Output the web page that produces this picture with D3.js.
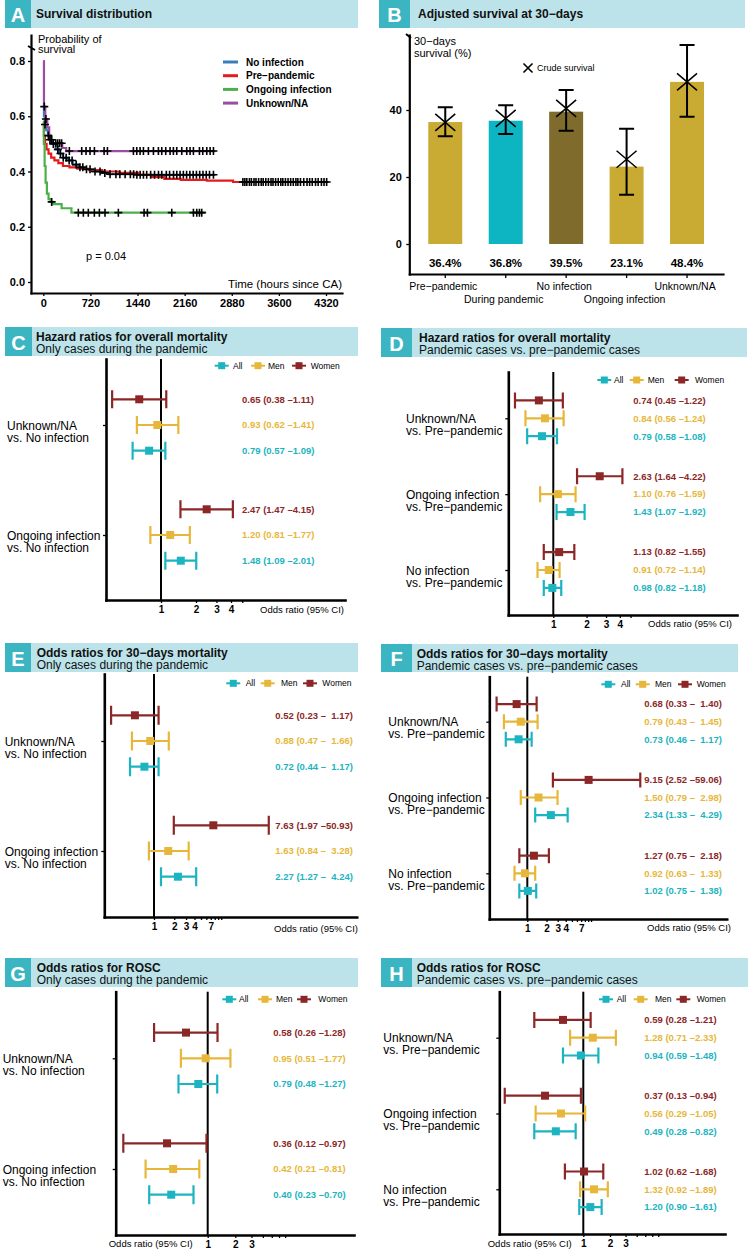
<!DOCTYPE html>
<html><head><meta charset="utf-8">
<script src="https://cdn.jsdelivr.net/npm/d3@7/dist/d3.min.js"></script>
<style>html,body{margin:0;padding:0;background:#fff}svg{display:block}</style>
</head><body>
<svg id="chart" width="749" height="1249" xmlns="http://www.w3.org/2000/svg"></svg>
<script>
// ===================== DATA =====================
// Panel A – Kaplan–Meier survival (step points)
const kmNames  = ["No infection", "Pre\u2212pandemic", "Ongoing infection", "Unknown/NA"];
const kmColors = ["#377EB8", "#E41A1C", "#4DAF4A", "#984EA3"];
const noInfTime = [0, 10, 25, 45, 70, 100, 140, 190, 240, 300, 370, 450, 540, 640, 760, 880, 1000, 1400];
const noInfSurv = [0.63, 0.60, 0.57, 0.55, 0.53, 0.515, 0.50, 0.48, 0.465, 0.45, 0.44, 0.425, 0.415, 0.408, 0.40, 0.395, 0.39, 0.388];
const noInfEnd  = 2630;
const noInfCens = [26, 77, 102, 128, 153, 222, 262, 305, 349, 395, 440, 502, 560, 604, 660, 714, 790, 867, 940, 1020, 1110, 1170, 1250, 1330, 1380, 1430, 1480, 1530, 1580, 1640, 1700, 1760, 1810, 1880, 1930, 1990, 2040, 2090, 2140, 2190, 2240, 2290, 2340, 2390, 2440, 2490, 2540, 2600];
const preTime = [0, 10, 25, 50, 80, 120, 170, 230, 300, 400, 520, 700, 900, 1150, 1450, 1650, 1850, 2100, 2500, 2900];
const preSurv = [0.58, 0.53, 0.50, 0.48, 0.465, 0.45, 0.44, 0.43, 0.42, 0.415, 0.41, 0.405, 0.40, 0.395, 0.388, 0.38, 0.373, 0.37, 0.367, 0.362];
const preEnd  = 4360;
const preCens = [3050, 3080, 3110, 3150, 3180, 3220, 3250, 3290, 3330, 3360, 3400, 3440, 3480, 3510, 3550, 3590, 3630, 3660, 3700, 3740, 3780, 3820, 3860, 3890, 3930, 3980, 4030, 4070, 4110, 4160, 4200, 4250, 4290, 4330];
const ongTime = [0, 8, 20, 35, 55, 80, 110, 150, 280, 430];
const ongSurv = [0.58, 0.50, 0.42, 0.36, 0.32, 0.30, 0.29, 0.282, 0.267, 0.251];
const ongEnd  = 2490;
const ongCens = [128, 535, 612, 688, 780, 857, 943, 1147, 1540, 1591, 1963, 2294, 2345, 2386, 2421];
const unkTime = [0, 10, 30, 60, 90, 110, 290, 350];
const unkSurv = [0.80, 0.635, 0.59, 0.56, 0.53, 0.502, 0.485, 0.474];
const unkEnd  = 2630;
const unkCens = [15, 40, 190, 220, 250, 280, 398, 587, 653, 714, 781, 929, 980, 1377, 1428, 1479, 1530, 1606, 1683, 1759, 1810, 1871, 1937, 1988, 2039, 2116, 2192, 2243, 2294, 2386, 2437, 2498, 2549, 2600];
const kmXTicks = [0, 720, 1440, 2160, 2880, 3600, 4320];
const kmYTicks = [0, 0.2, 0.4, 0.6, 0.8];

// Panel B – adjusted 30-day survival
const bCats   = ["Pre\u2212pandemic", "During pandemic", "No infection", "Ongoing infection", "Unknown/NA"];
const bAdj    = [36.4, 36.8, 39.5, 23.1, 48.4];
const bLo     = [32.2, 32.8, 33.8, 14.7, 38.0];
const bHi     = [40.8, 41.4, 46.0, 34.4, 59.4];
const bCrude  = [36.3, 37.5, 40.5, 25.3, 48.4];
const bColors = ["#C9AA33", "#0DB5C3", "#7F6C2C", "#C9AA33", "#C9AA33"];
const bYTicks = [0, 20, 40];

// Forest plots: rows per group = Women, Men, All
const sexNames  = ["Women", "Men", "All"];
const sexColors = ["#8C2727", "#E6B73A", "#1CB4C1"];

const cGroups = [["Unknown/NA", "vs. No infection"], ["Ongoing infection", "vs. No infection"]];
const cEst = [[0.65, 0.93, 0.79], [2.47, 1.20, 1.48]];
const cLo  = [[0.38, 0.62, 0.57], [1.47, 0.81, 1.09]];
const cHi  = [[1.11, 1.41, 1.09], [4.15, 1.77, 2.01]];

const dGroups = [["Unknown/NA", "vs. Pre\u2212pandemic"], ["Ongoing infection", "vs. Pre\u2212pandemic"], ["No infection", "vs. Pre\u2212pandemic"]];
const dEst = [[0.74, 0.84, 0.79], [2.63, 1.10, 1.43], [1.13, 0.91, 0.98]];
const dLo  = [[0.45, 0.56, 0.58], [1.64, 0.76, 1.07], [0.82, 0.72, 0.82]];
const dHi  = [[1.22, 1.24, 1.08], [4.22, 1.59, 1.92], [1.55, 1.14, 1.18]];

const eGroups = cGroups;
const eEst = [[0.52, 0.88, 0.72], [7.63, 1.63, 2.27]];
const eLo  = [[0.23, 0.47, 0.44], [1.97, 0.84, 1.27]];
const eHi  = [[1.17, 1.66, 1.17], [50.93, 3.28, 4.24]];

const fGroups = dGroups;
const fEst = [[0.68, 0.79, 0.73], [9.15, 1.50, 2.34], [1.27, 0.92, 1.02]];
const fLo  = [[0.33, 0.43, 0.46], [2.52, 0.79, 1.33], [0.75, 0.63, 0.75]];
const fHi  = [[1.40, 1.45, 1.17], [59.06, 2.98, 4.29], [2.18, 1.33, 1.38]];

const gGroups = cGroups;
const gEst = [[0.58, 0.95, 0.79], [0.36, 0.42, 0.40]];
const gLo  = [[0.26, 0.51, 0.48], [0.12, 0.21, 0.23]];
const gHi  = [[1.28, 1.77, 1.27], [0.97, 0.81, 0.70]];

const hGroups = dGroups;
const hEst = [[0.59, 1.28, 0.94], [0.37, 0.56, 0.49], [1.02, 1.32, 1.20]];
const hLo  = [[0.28, 0.71, 0.59], [0.13, 0.29, 0.28], [0.62, 0.92, 0.90]];
const hHi  = [[1.21, 2.33, 1.48], [0.94, 1.05, 0.82], [1.68, 1.89, 1.61]];

const ticksHR = [1, 2, 3, 4, 5], labelsHR = [1, 2, 3, 4];
const ticksOR = [1, 2, 3, 4, 5, 6, 7, 8, 9, 10], labelsOR = [1, 2, 3, 4, 7];
const ticksRO = [1, 2, 3, 4, 5, 6, 7], labelsRO = [1, 2, 3];

// ===================== DRAWING =====================
const FONT = "'Liberation Sans', Arial, Helvetica, sans-serif";
const BAND = "#BCE3EA", BOX = "#3CB5C3";
const svg = d3.select("#chart").attr("font-family", FONT);

function extend(scale, r0, r1) {
  return scale.copy().domain([scale.invert(r0), scale.invert(r1)]).range([r0, r1]);
}
function styleAxis(sel, lw, fs, bold) {
  sel.attr("font-family", FONT);
  sel.select(".domain").attr("stroke", "#000").attr("stroke-width", lw).attr("stroke-linecap", "square");
  sel.selectAll(".tick line").attr("stroke", "#000").attr("stroke-width", 1.3);
  sel.selectAll(".tick text").attr("fill", "#000").attr("font-size", fs).attr("font-weight", bold ? "bold" : "normal");
}
function txt(g, x, y, s, o = {}) {
  return g.append("text").attr("x", x).attr("y", y).attr("dy", "0.35em")
    .attr("text-anchor", o.anchor || "start").attr("font-size", o.size || 12)
    .attr("font-weight", o.bold ? "bold" : "normal").attr("fill", o.fill || "#000")
    .style("white-space", "pre").text(s);
}
// multi-line text as a single text element
function txt2(g, x, y, lines, gap, o = {}) {
  const t = g.append("text").attr("x", x).attr("y", y)
    .attr("text-anchor", o.anchor || "start").attr("font-size", o.size || 12)
    .attr("font-weight", o.bold ? "bold" : "normal").attr("fill", o.fill || "#000");
  lines.forEach((l, i) => {
    t.append("tspan").attr("x", x).attr("dy", i === 0 ? "0.35em" : gap).text(l);
  });
  return t;
}
function header(g, h) {
  g.append("rect").attr("x", h.x0).attr("y", h.y0).attr("width", h.x1 - h.x0).attr("height", h.y1 - h.y0).attr("fill", BAND);
  g.append("rect").attr("x", h.x0).attr("y", h.y0).attr("width", h.boxW).attr("height", h.y1 - h.y0).attr("fill", BOX);
  txt(g, h.x0 + h.boxW / 2, (h.y0 + h.y1) / 2 + 1, h.letter, {anchor: "middle", size: 20, bold: true, fill: "#fff"});
  if (h.sub) {
    txt(g, h.titleX, h.y0 + 10, h.title, {size: 12, bold: true, fill: "#111"});
    txt(g, h.titleX, h.y0 + 22, h.sub, {size: 12, fill: "#111"});
  } else {
    txt(g, h.titleX, (h.y0 + h.y1) / 2, h.title, {size: 12, bold: true, fill: "#111"});
  }
}

// ---------- Panel A ----------
(function () {
  const g = svg.append("g");
  header(g, {x0: 5, x1: 358, y0: 0, y1: 28, boxW: 26, letter: "A", titleX: 36, title: "Survival distribution"});
  const x = extend(d3.scaleLinear().domain([0, 4320]).range([43.3, 326]), 31, 342);
  const y = extend(d3.scaleLinear().domain([0, 0.8]).range([282, 61]), 293, 35);
  const ax = g.append("g").attr("transform", "translate(0,293)")
    .call(d3.axisBottom(x).tickValues(kmXTicks).tickFormat(d3.format("d")).tickSize(3).tickSizeOuter(0).tickPadding(3));
  styleAxis(ax, 2.2, 11, true);
  const ay = g.append("g").attr("transform", "translate(31,0)")
    .call(d3.axisLeft(y).tickValues(kmYTicks).tickFormat(d3.format(".1f")).tickSize(3).tickSizeOuter(0).tickPadding(3));
  styleAxis(ay, 2.2, 11, true);
  g.append("line").attr("x1", 28).attr("y1", 46).attr("x2", 35).attr("y2", 50).attr("stroke", "#000").attr("stroke-width", 2);

  const series = [
    [noInfTime, noInfSurv, noInfEnd, noInfCens],
    [preTime, preSurv, preEnd, preCens],
    [ongTime, ongSurv, ongEnd, ongCens],
    [unkTime, unkSurv, unkEnd, unkCens]
  ];
  const line = d3.line().x(d => x(d[0])).y(d => y(d[1])).curve(d3.curveStepAfter);
  series.forEach((s, i) => {
    const pts = s[0].map((t, j) => [t, s[1][j]]);
    pts.push([s[2], s[1][s[1].length - 1]]);
    g.append("path").attr("d", line(pts)).attr("fill", "none").attr("stroke", kmColors[i]).attr("stroke-width", 2.2);
  });
  series.forEach(s => {
    s[3].forEach(t => {
      const v = s[1][Math.max(0, d3.bisectRight(s[0], t) - 1)];
      const cx = x(t), cy = y(v);
      g.append("path").attr("d", `M${cx - 4},${cy}H${cx + 4}M${cx},${cy - 4}V${cy + 4}`)
        .attr("stroke", "#000").attr("stroke-width", 1.6);
    });
  });
  // legend
  kmNames.forEach((n, i) => {
    const ly = 62 + i * 13.7;
    g.append("line").attr("x1", 223).attr("x2", 238).attr("y1", ly).attr("y2", ly).attr("stroke", kmColors[i]).attr("stroke-width", 3);
    txt(g, 246, ly, n, {size: 10, bold: true});
  });
  txt2(g, 38, 39, ["Probability of", "survival"], 10.5, {size: 11});
  txt(g, 342, 284, "Time (hours since CA)", {size: 11.5, anchor: "end"});
  txt(g, 86, 256, "p = 0.04", {size: 11});
})();

// ---------- Panel B ----------
(function () {
  const g = svg.append("g");
  header(g, {x0: 379, x1: 745, y0: 0, y1: 28, boxW: 31, letter: "B", titleX: 418, title: "Adjusted survival at 30\u2212days"});
  const x = d3.scaleBand().domain(bCats).range([409.3, 723]).paddingInner(0.438).paddingOuter(0.314);
  const y = extend(d3.scaleLinear().domain([0, 40]).range([244, 110]), 274, 35);
  const ax = g.append("g").attr("transform", "translate(0,274)")
    .call(d3.axisBottom(x).tickFormat("").tickSize(4).tickSizeOuter(0));
  styleAxis(ax, 2.2, 10, false);
  const ay = g.append("g").attr("transform", "translate(409.3,0)")
    .call(d3.axisLeft(y).tickValues(bYTicks).tickSize(3).tickSizeOuter(0).tickPadding(4.5));
  styleAxis(ay, 2.2, 11, true);
  g.append("line").attr("x1", 406).attr("y1", 34).attr("x2", 411).attr("y2", 38).attr("stroke", "#000").attr("stroke-width", 2);

  bCats.forEach((c, i) => {
    const cx = x(c) + x.bandwidth() / 2;
    g.append("rect").attr("x", x(c)).attr("y", y(bAdj[i])).attr("width", x.bandwidth())
      .attr("height", y(0) - y(bAdj[i])).attr("fill", bColors[i]);
    g.append("path").attr("d", `M${cx - 7.5},${y(bHi[i])}H${cx + 7.5}M${cx},${y(bHi[i])}V${y(bLo[i])}M${cx - 7.5},${y(bLo[i])}H${cx + 7.5}`)
      .attr("fill", "none").attr("stroke", "#000").attr("stroke-width", 2);
    const cy = y(bCrude[i]);
    g.append("path").attr("d", `M${cx - 10},${cy - 8.5}L${cx + 10},${cy + 8.5}M${cx - 10},${cy + 8.5}L${cx + 10},${cy - 8.5}`)
      .attr("stroke", "#000").attr("stroke-width", 1.5);
    txt(g, cx, 263, bAdj[i].toFixed(1) + "%", {anchor: "middle", size: 11.5, bold: true});
    txt(g, cx - 2, i % 2 === 0 ? 286 : 299, c, {anchor: "middle", size: 10.5});
  });
  g.append("path").attr("d", "M523.5,63.5L532.5,72.5M523.5,72.5L532.5,63.5").attr("stroke", "#000").attr("stroke-width", 1.6);
  txt(g, 537, 68, "Crude survival", {size: 9});
  txt2(g, 414, 41, ["30\u2212days", "survival (%)"], 12, {size: 11});
})();

// ---------- Forest panels ----------
function fmtCI(e, l, h, padded) {
  const f = d3.format(".2f");
  let hs = f(h);
  if (padded && hs.length < 5) hs = "\u2007" + hs;
  return `${f(e)} (${f(l)} \u2013${hs})`;
}
function forest(P) {
  const g = svg.append("g");
  header(g, P.hdr);
  const n = P.groups.length;
  const x = extend(d3.scaleLog().domain([1, Math.E]).range([P.refX, P.refX + P.k]), P.axisX, P.right);
  const y = extend(d3.scaleLinear().domain([0, n - 1]).range([P.c0, P.c1]), P.top, P.bottom);
  const off = P.dodge / ((P.c1 - P.c0) / (n - 1));

  g.append("line").attr("x1", x(1)).attr("x2", x(1)).attr("y1", P.top).attr("y2", P.bottom)
    .attr("stroke", "#000").attr("stroke-width", 2);
  const ax = g.append("g").attr("transform", `translate(0,${P.bottom})`)
    .call(d3.axisBottom(x).tickValues(P.ticks).tickFormat(d => P.tickLabels.includes(d) ? String(d) : "")
      .tickSize(3).tickSizeOuter(0).tickPadding(3));
  styleAxis(ax, 2.6, 10, true);
  const ay = g.append("g").attr("transform", `translate(${P.axisX},0)`)
    .call(d3.axisLeft(y).tickValues(d3.range(n)).tickFormat("").tickSize(3).tickSizeOuter(0));
  styleAxis(ay, 2.6, 10, false);

  P.groups.forEach((lab, gi) => {
    txt2(g, P.labelX, y(gi) + 0.5, lab, 11.8, {size: 12});
    sexNames.forEach((s, si) => {
      const yy = y(gi + (si - 1) * off), col = sexColors[si];
      const xl = x(P.lo[gi][si]), xh = x(P.hi[gi][si]), xe = x(P.est[gi][si]);
      const hc = P.capH / 2;
      g.append("path").attr("d", `M${xl},${yy}H${xh}M${xl},${yy - hc}V${yy + hc}M${xh},${yy - hc}V${yy + hc}`)
        .attr("fill", "none").attr("stroke", col).attr("stroke-width", 2.2);
      g.append("rect").attr("x", xe - 4).attr("y", yy - 4).attr("width", 8).attr("height", 8).attr("fill", col);
      txt(g, P.valX, yy, fmtCI(P.est[gi][si], P.lo[gi][si], P.hi[gi][si], P.padded), {size: 9.5, bold: true, fill: col});
    });
  });
  // legend: All, Men, Women
  [2, 1, 0].forEach((si, k) => {
    const sx = P.leg[k * 2], tx = P.leg[k * 2 + 1], col = sexColors[si];
    g.append("line").attr("x1", sx - 7).attr("x2", sx + 7).attr("y1", P.legY).attr("y2", P.legY).attr("stroke", col).attr("stroke-width", 2);
    g.append("rect").attr("x", sx - 3.5).attr("y", P.legY - 3.5).attr("width", 7).attr("height", 7).attr("fill", col);
    txt(g, tx, P.legY, sexNames[si], {size: 8.5});
  });
  txt(g, P.xlabX, P.xlabY, "Odds ratio (95% CI)", {size: 9.5, anchor: "end"});
}

forest({hdr: {x0: 5, x1: 358, y0: 327, y1: 356, boxW: 27, letter: "C", titleX: 36, title: "Hazard ratios for overall mortality", sub: "Only cases during the pandemic"},
  axisX: 106, right: 345, top: 359, bottom: 600, refX: 161, k: 50.5, c0: 425, c1: 535, dodge: 25.7, capH: 18,
  labelX: 7, valX: 242, legY: 365.7, leg: [221.7, 233, 258, 268, 299, 310.7], xlabX: 344, xlabY: 610,
  ticks: ticksHR, tickLabels: labelsHR, groups: cGroups, est: cEst, lo: cLo, hi: cHi, padded: false});

forest({hdr: {x0: 381, x1: 747, y0: 328, y1: 357, boxW: 31, letter: "D", titleX: 419, title: "Hazard ratios for overall mortality", sub: "Pandemic cases vs. pre\u2212pandemic cases"},
  axisX: 508.3, right: 737, top: 372, bottom: 615, refX: 553.3, k: 48, c0: 418.3, c1: 570, dodge: 17.9, capH: 16,
  labelX: 406, valX: 633.3, legY: 380, leg: [604.3, 614, 636.7, 647.7, 681.7, 695], xlabX: 732, xlabY: 624,
  ticks: ticksHR, tickLabels: labelsHR, groups: dGroups, est: dEst, lo: dLo, hi: dHi, padded: false});

forest({hdr: {x0: 5, x1: 358, y0: 643, y1: 672, boxW: 26, letter: "E", titleX: 36.7, title: "Odds ratios for 30\u2212days mortality", sub: "Only cases during the pandemic"},
  axisX: 104.3, right: 356.7, top: 674, bottom: 917, refX: 154, k: 29.2, c0: 741, c1: 851, dodge: 25.7, capH: 19,
  labelX: 4.7, valX: 275.3, legY: 683.3, leg: [233.3, 245.7, 267.7, 281, 310, 322.3], xlabX: 358, xlabY: 928.3,
  ticks: ticksOR, tickLabels: labelsOR, groups: eGroups, est: eEst, lo: eLo, hi: eHi, padded: true});

forest({hdr: {x0: 381, x1: 738, y0: 644, y1: 672, boxW: 31, letter: "F", titleX: 416.7, title: "Odds ratios for 30\u2212days mortality", sub: "Pandemic cases vs. pre\u2212pandemic cases"},
  axisX: 489.3, right: 726.7, top: 676.7, bottom: 919, refX: 527.3, k: 27.7, c0: 721.7, c1: 873.3, dodge: 17.6, capH: 15,
  labelX: 388.3, valX: 644.3, legY: 684.3, leg: [608.3, 621, 642.7, 655, 685, 696.7], xlabX: 731, xlabY: 927.7,
  ticks: ticksOR, tickLabels: labelsOR, groups: fGroups, est: fEst, lo: fLo, hi: fHi, padded: true});

forest({hdr: {x0: 5, x1: 358, y0: 958, y1: 987, boxW: 26, letter: "G", titleX: 36.7, title: "Odds ratios for ROSC", sub: "Only cases during the pandemic"},
  axisX: 115.7, right: 354, top: 991.7, bottom: 1235, refX: 207.7, k: 39.8, c0: 1058.3, c1: 1169, dodge: 25.7, capH: 19,
  labelX: 2.7, valX: 273.3, legY: 999.3, leg: [229.3, 239, 265, 276, 304, 318.3], xlabX: 192.7, xlabY: 1244,
  ticks: ticksRO, tickLabels: labelsRO, groups: gGroups, est: gEst, lo: gLo, hi: gHi, padded: false});

forest({hdr: {x0: 381, x1: 748, y0: 958, y1: 987, boxW: 31, letter: "H", titleX: 416.7, title: "Odds ratios for ROSC", sub: "Pandemic cases vs. pre\u2212pandemic cases"},
  axisX: 499.3, right: 725, top: 991.7, bottom: 1234, refX: 583.3, k: 38.5, c0: 1037.7, c1: 1189.3, dodge: 17.8, capH: 16,
  labelX: 383.3, valX: 644.3, legY: 999.3, leg: [606, 616.7, 640.7, 655, 683.3, 696.7], xlabX: 571.7, xlabY: 1244,
  ticks: ticksRO, tickLabels: labelsRO, groups: hGroups, est: hEst, lo: hLo, hi: hHi, padded: false});
</script>
</body></html>
